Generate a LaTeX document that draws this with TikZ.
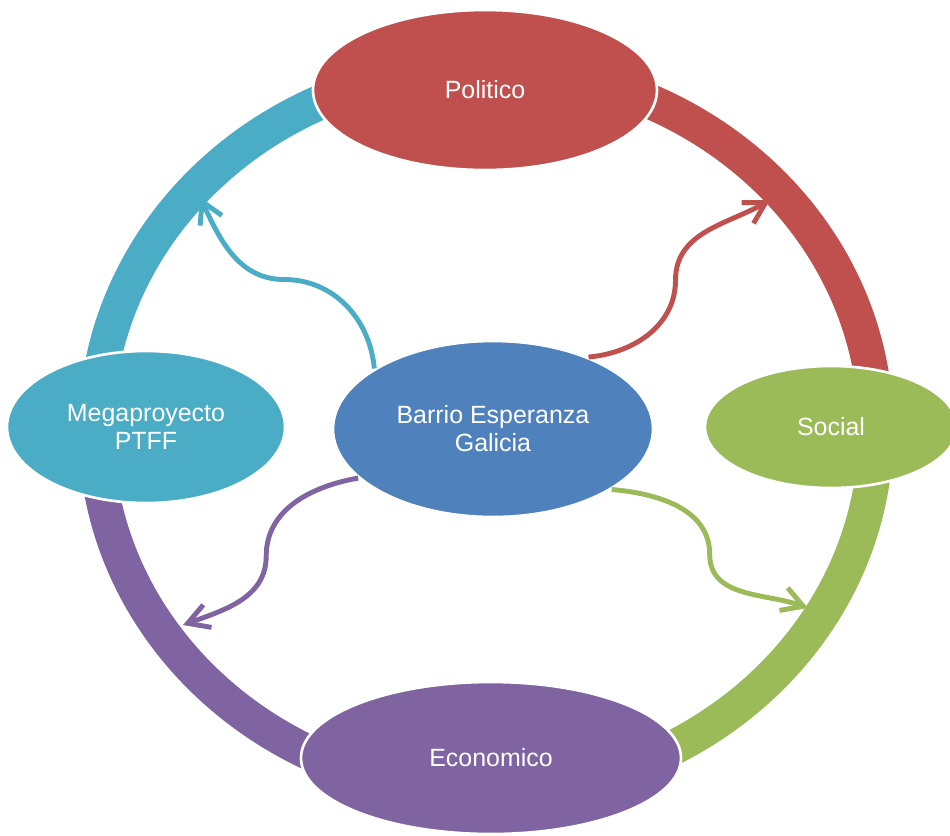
\documentclass[tikz,border=0pt]{standalone}
\usepackage{fontspec}
\setmainfont{Liberation Sans}
\usepackage{tikz}
\usetikzlibrary{shapes.geometric, arrows.meta}

\definecolor{redc}{HTML}{C0504D}
\definecolor{bluec}{HTML}{4F81BD}
\definecolor{tealc}{HTML}{4BACC6}
\definecolor{greenc}{HTML}{9BBB59}
\definecolor{purplec}{HTML}{8064A2}

\begin{document}
\begin{tikzpicture}[
		bubble/.style={ellipse, draw=white, line width=1.5pt, text=white, align=center, inner sep=0pt, font=\fontsize{14.2}{16}\selectfont},
		ring/.style={line width=0.7cm},
		link/.style={line width=2.8pt, -{Straight Barb[length=4.2mm,width=4.8mm]}}
		]
		\useasboundingbox (-9.72,-8.1) rectangle (9.28,8.6);
		
		%//ring round the centre, one quarter per colour
		\foreach \a/\c in {0/redc, 90/tealc, 180/purplec, 270/greenc}
		\draw[ring, \c] (\a:7.8 and 7.24) arc[start angle=\a, delta angle=90, x radius=7.8, y radius=7.24];
		
		%//the five ellipses
		\node[bubble, fill=redc, minimum width=6.88cm, minimum height=3.2cm] (politico) at (-0.02, 6.8) {Politico};
		\node[bubble, fill=tealc, minimum width=5.56cm, minimum height=3.04cm] (mega) at (-6.8, 0.06) {Megaproyecto\\PTFF};
		\node[bubble, fill=greenc, minimum width=5.04cm, minimum height=2.44cm] (social) at (6.9, 0.06) {Social};
		\node[bubble, fill=purplec, minimum width=7.6cm, minimum height=3.04cm] (economico) at (0.1, -6.56) {Economico};
		\node[bubble, fill=bluec, minimum width=6.4cm, minimum height=3.52cm] (barrio) at (0.14, 0.02) {Barrio Esperanza\\Galicia};
		
		%//arrows out of the centre to the ring
		\coordinate (tip1) at (-5.72, 4.66);
		\coordinate (tip2) at (5.68, 4.6);
		\coordinate (tip3) at (-6.06, -3.9);
		\coordinate (tip4) at (6.44, -3.56);
		
		\draw[link, tealc] (barrio.153) to[out=95, in=0] ++(-1.8, 1.78) to[out=180, in=-65] (tip1);
		\draw[link, redc] (barrio.37) to[out=5, in=-90] ++(1.74, 1.54) to[out=90, in=-150] (tip2);
		\draw[link, purplec] (barrio.200) to[out=190, in=90] ++(-1.84, -1.56) to[out=-90, in=20] (tip3);
		\draw[link, greenc] (barrio.333) to[out=-5, in=90] ++(1.96, -1.3) to[out=-90, in=160] (tip4);
		
\end{tikzpicture}
\end{document}
